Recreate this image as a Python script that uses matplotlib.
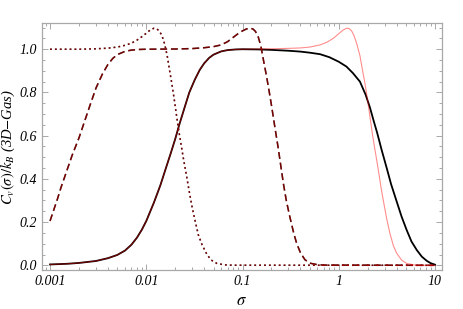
import matplotlib
matplotlib.use('Agg')
import matplotlib.pyplot as plt
from matplotlib.ticker import FixedLocator, LogLocator, MultipleLocator, NullFormatter

plt.rcParams['font.family'] = ['Liberation Serif', 'DejaVu Serif']
plt.rcParams['mathtext.fontset'] = 'stix'

# rising part shared by the black and red solid curves
sig_rise = [0.001, 0.0015, 0.002, 0.003, 0.004, 0.005, 0.006, 0.007, 0.008, 0.009, 0.01,
            0.012, 0.014, 0.016, 0.018, 0.02, 0.022, 0.025, 0.028, 0.032, 0.036, 0.04,
            0.045, 0.05, 0.06, 0.07, 0.085, 0.1]
cv_rise = [0.004, 0.007, 0.011, 0.02, 0.033, 0.048, 0.068, 0.095, 0.128, 0.165, 0.205,
           0.29, 0.37, 0.45, 0.52, 0.585, 0.65, 0.73, 0.80, 0.86, 0.905, 0.935,
           0.96, 0.975, 0.99, 0.996, 0.999, 1.0]

# black solid: plateau and drop
sig_black = [0.15, 0.2, 0.3, 0.4, 0.5, 0.64, 0.8, 1.0, 1.2, 1.4, 1.66, 1.9, 2.11, 2.3, 2.5,
             2.79, 3.15, 3.5, 4.0, 4.5, 5.08, 5.7, 6.46, 7.3, 8.2, 9.0, 10.0]
cv_black = [0.999, 0.997, 0.993, 0.989, 0.984, 0.977, 0.963, 0.942, 0.92, 0.89, 0.85, 0.79,
            0.73, 0.67, 0.615, 0.534, 0.45, 0.375, 0.295, 0.225, 0.163, 0.11, 0.071, 0.04,
            0.021, 0.01, 0.003]

# red solid: plateau, bump and drop
sig_red = [0.2, 0.3, 0.4, 0.5, 0.64, 0.75, 0.877, 1.0, 1.11, 1.2, 1.28, 1.36, 1.45, 1.55,
           1.66, 1.77, 1.87, 2.0, 2.11, 2.25, 2.38, 2.58, 2.75, 2.9, 3.15, 3.4, 3.7, 4.0,
           4.5, 5.08, 6.0, 7.0, 10.0]
cv_red = [1.002, 1.004, 1.006, 1.01, 1.02, 1.032, 1.05, 1.072, 1.089, 1.097, 1.096, 1.085,
          1.06, 1.02, 0.97, 0.9, 0.843, 0.76, 0.688, 0.6, 0.534, 0.44, 0.36, 0.302, 0.215,
          0.148, 0.09, 0.056, 0.024, 0.009, 0.002, 0.0, 0.0]

# dashed pair
sig_dash = [0.001, 0.0011, 0.0012, 0.0013, 0.0015, 0.0017, 0.002, 0.0023, 0.0026, 0.003,
            0.0035, 0.004, 0.0045, 0.005, 0.006, 0.007, 0.0085, 0.01, 0.02, 0.03, 0.04,
            0.05, 0.06, 0.07, 0.08, 0.09, 0.1, 0.11, 0.12, 0.128, 0.136, 0.145, 0.155,
            0.165, 0.178, 0.19, 0.2, 0.215, 0.235, 0.25, 0.2655, 0.285, 0.31, 0.34, 0.365,
            0.4, 0.445, 0.5, 0.6, 0.7, 10.0]
cv_dash = [0.205, 0.26, 0.31, 0.36, 0.44, 0.51, 0.59, 0.67, 0.74, 0.82,
           0.885, 0.93, 0.958, 0.975, 0.99, 0.996, 0.999, 1.0, 1.001, 1.003, 1.007,
           1.012, 1.02, 1.035, 1.055, 1.072, 1.085, 1.094, 1.097, 1.094, 1.083, 1.06, 1.015,
           0.95, 0.873, 0.80, 0.74, 0.65, 0.542, 0.46, 0.38, 0.30, 0.225, 0.15, 0.102,
           0.058, 0.026, 0.01, 0.003, 0.001, 0.0]

# dotted pair
sig_dot = [0.001, 0.002, 0.003, 0.004, 0.005, 0.006, 0.007, 0.008, 0.009, 0.01, 0.011,
           0.012, 0.0128, 0.0136, 0.0145, 0.0155, 0.0165, 0.0175, 0.0184, 0.0195, 0.0207,
           0.022, 0.0243, 0.0263, 0.028, 0.0296, 0.032, 0.0348, 0.038, 0.0425, 0.047,
           0.054, 0.065, 0.08, 10.0]
cv_dot = [1.0, 1.0, 1.002, 1.005, 1.01, 1.018, 1.028, 1.042, 1.058, 1.074, 1.089,
          1.097, 1.095, 1.085, 1.065, 1.025, 0.97, 0.9, 0.843, 0.77, 0.688,
          0.61, 0.495, 0.41, 0.34, 0.28, 0.21, 0.14, 0.095, 0.052, 0.025,
          0.009, 0.002, 0.0005, 0.0]

fig = plt.figure(figsize=(4.63, 3.09), dpi=100)
ax = fig.add_axes([0.0907, 0.126, 0.8633, 0.7986])

red = (1.0, 0.0, 0.0, 0.45)
ax.plot(sig_rise + sig_black, cv_rise + cv_black, color='black', lw=1.3)
ax.plot(sig_dash, cv_dash, color='black', lw=1.1, dashes=(4.5, 2.5))
ax.plot(sig_dot, cv_dot, color='black', lw=1.1, dashes=(1.2, 2.0))
ax.plot(sig_rise + sig_red, cv_rise + cv_red, color=red, lw=0.8)
ax.plot(sig_dash, cv_dash, color=red, lw=1.1, dashes=(4.5, 2.5))
ax.plot(sig_dot, cv_dot, color=red, lw=1.1, dashes=(1.2, 2.0))

ax.set_xscale('log')
ax.set_xlim(0.000825, 11.74)
ax.set_ylim(-0.022, 1.12)

ax.xaxis.set_major_locator(FixedLocator([0.001, 0.01, 0.1, 1, 10]))
ax.xaxis.set_minor_locator(LogLocator(base=10, subs=range(2, 10), numticks=20))
ax.xaxis.set_minor_formatter(NullFormatter())
ax.set_xticklabels(['0.001', '0.01', '0.1', '1', '10'])
ax.yaxis.set_minor_locator(MultipleLocator(0.05))
ax.set_yticks([0.0, 0.2, 0.4, 0.6, 0.8, 1.0])
ax.set_yticklabels(['0.0', '0.2', '0.4', '0.6', '0.8', '1.0'])

gray = '#a8a8a8'
for s in ax.spines.values():
    s.set_color(gray)
    s.set_linewidth(0.9)
ax.tick_params(which='both', direction='in', top=True, right=True, color=gray,
               labelsize=10, width=0.7)
ax.tick_params(which='major', length=4.5, pad=3.5)
ax.tick_params(which='minor', length=2.5)
for lab in ax.get_xticklabels() + ax.get_yticklabels():
    lab.set_fontstyle('italic')

ax.set_xlabel(r'$\sigma$', fontsize=12, labelpad=4)
ax.set_ylabel(r'$C_v(\sigma)/k_B$ (3D$-$Gas)', fontsize=10.5, fontstyle='italic')
ax.yaxis.set_label_coords(-0.063, 0.5)

fig.savefig('out.png', dpi=100)
